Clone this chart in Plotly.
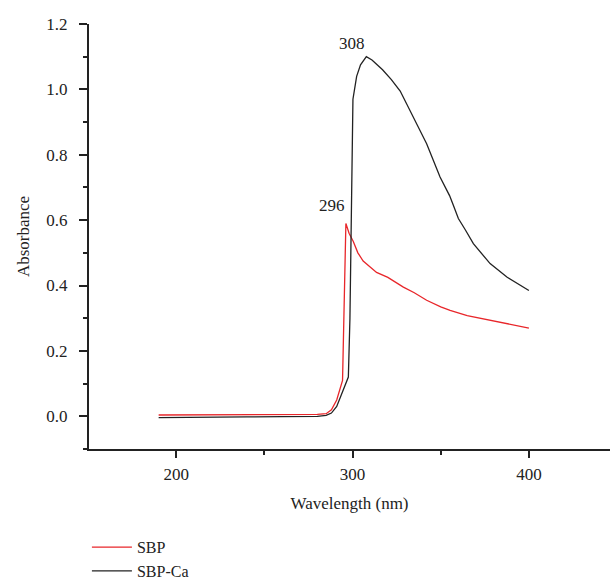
import plotly.graph_objects as go

# SBP (red)
sbp_wl = [190, 200, 220, 240, 260, 280, 285, 288, 291, 293, 294.3, 296.2, 298, 300.4, 303, 306, 310, 313.6, 320, 328.8, 335, 342, 350, 355.3, 365, 374.2, 385, 393, 400]
sbp_abs = [0.004, 0.004, 0.004, 0.005, 0.005, 0.006, 0.008, 0.02, 0.05, 0.09, 0.11, 0.59, 0.56, 0.535, 0.50, 0.475, 0.455, 0.44, 0.425, 0.395, 0.378, 0.355, 0.335, 0.324, 0.308, 0.298, 0.288, 0.279, 0.27]

# SBP-Ca (black)
ca_wl = [190, 200, 220, 240, 260, 280, 285, 288, 291, 294, 296, 297.6, 298.5, 299.3, 300.2, 302.3, 304.5, 307.8, 311, 317, 322, 327, 334.4, 342, 349.6, 355, 357.2, 360, 364, 368.5, 378, 387.5, 400]
ca_abs = [-0.004, -0.004, -0.003, -0.002, -0.001, 0.0, 0.003, 0.01, 0.03, 0.07, 0.1, 0.12, 0.3, 0.7, 0.97, 1.04, 1.075, 1.10, 1.09, 1.06, 1.03, 0.995, 0.915, 0.834, 0.732, 0.675, 0.645, 0.605, 0.57, 0.528, 0.467, 0.426, 0.385]

peak_labels = ["296", "308"]
x_ticks = [200, 300, 400]
y_ticks = [0.0, 0.2, 0.4, 0.6, 0.8, 1.0, 1.2]
y_tick_text = ["0.0", "0.2", "0.4", "0.6", "0.8", "1.0", "1.2"]

FONT = "Liberation Serif"
FS = 17

fig = go.Figure()
fig.add_trace(go.Scatter(x=sbp_wl, y=sbp_abs, mode="lines", name="SBP",
                         line=dict(color="#e8262a", width=1.3)))
fig.add_trace(go.Scatter(x=ca_wl, y=ca_abs, mode="lines", name="SBP-Ca",
                         line=dict(color="#222222", width=1.3)))

# peak annotations
i_sbp = sbp_abs.index(max(sbp_abs))
i_ca = ca_abs.index(max(ca_abs))
fig.add_annotation(x=sbp_wl[i_sbp], y=sbp_abs[i_sbp], text=peak_labels[0], showarrow=False,
                   xanchor="right", yanchor="bottom", xshift=1, yshift=6,
                   font=dict(family=FONT, size=FS, color="#222"))
fig.add_annotation(x=ca_wl[i_ca], y=ca_abs[i_ca], text=peak_labels[1], showarrow=False,
                   xanchor="center", yanchor="bottom", xshift=-14, yshift=2,
                   font=dict(family=FONT, size=FS, color="#222"))

fig.update_layout(
    width=610, height=580,
    margin=dict(l=89, r=0, t=24, b=131, autoexpand=False),
    plot_bgcolor="white", paper_bgcolor="white",
    font=dict(family=FONT, size=FS, color="#222"),
    showlegend=True,
    legend=dict(x=-0.004, y=-0.191, xanchor="left", yanchor="top",
                font=dict(family=FONT, size=16, color="#222"),
                bgcolor="rgba(0,0,0,0)", tracegroupgap=0, itemwidth=40),
)
fig.update_xaxes(
    range=[150.5, 446], showgrid=False, zeroline=False,
    showline=True, linecolor="#222", linewidth=2,
    ticks="outside", ticklen=7, tickwidth=2, tickcolor="#222",
    tickvals=x_ticks, ticklabelstandoff=2,
    minor=dict(ticks="outside", ticklen=4, tickwidth=2, tickcolor="#222", dtick=50, tick0=0),
    title=dict(text="Wavelength (nm)", standoff=14, font=dict(family=FONT, size=FS)),
    tickfont=dict(family=FONT, size=FS),
)
fig.update_yaxes(
    range=[-0.1, 1.2], showgrid=False, zeroline=False,
    showline=True, linecolor="#222", linewidth=2,
    ticks="outside", ticklen=8, tickwidth=2, tickcolor="#222",
    tickvals=y_ticks, ticktext=y_tick_text, ticklabelstandoff=8,
    minor=dict(ticks="outside", ticklen=4, tickwidth=2, tickcolor="#222", dtick=0.1, tick0=0),
    title=dict(text="Absorbance", standoff=12, font=dict(family=FONT, size=FS)),
    tickfont=dict(family=FONT, size=FS),
)

fig.write_html("out.html")
